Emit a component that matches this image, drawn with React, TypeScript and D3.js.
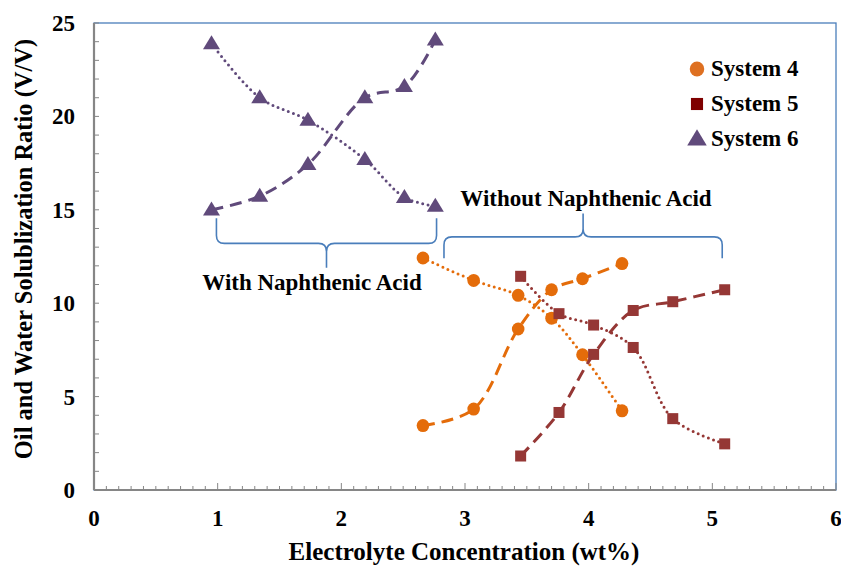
import React from 'react';
import * as d3 from 'd3';

// electrolyte concentration (wt%) vs solubilization ratio (V/V)
const sys4X = [2.66, 3.07, 3.43, 3.7, 3.95, 4.27];
const sys4Oil = [12.42, 11.22, 10.42, 9.2, 7.24, 4.24];
const sys4Water = [3.45, 4.33, 8.62, 10.72, 11.31, 12.12];

const sys5X = [3.45, 3.76, 4.04, 4.36, 4.68, 5.1];
const sys5Oil = [11.44, 9.44, 8.83, 7.63, 3.82, 2.47];
const sys5Water = [1.82, 4.15, 7.26, 9.61, 10.08, 10.72];

const sys6X = [0.95, 1.34, 1.73, 2.19, 2.51, 2.76];
const sys6Oil = [23.9, 21.0, 19.8, 17.7, 15.67, 15.19];
const sys6Water = [15.0, 15.73, 17.43, 21.0, 21.6, 24.1];

const yTicks = [0, 5, 10, 15, 20, 25];
const xTicks = [0, 1, 2, 3, 4, 5, 6];
const legendNames = ['System 4', 'System 5', 'System 6'];

// brace annotations: [x start, x end, end y, bar y, tip y]
const braceWith = [0.99, 2.77, 14.55, 13.2, 11.9];
const braceWithout = [2.83, 5.08, 12.4, 13.55, 14.8];

const W = 841;
const H = 567;
const margin = { top: 23, right: 5, bottom: 77, left: 94 };
const font = "'Liberation Serif', Tinos, 'Times New Roman', Times, serif";
const txt = { fontFamily: font, fontWeight: 'bold' as const, fontSize: '23px' };
const title = { ...txt, fontSize: '25px' };

const c4 = '#E46C0A';
const c5 = '#953735';
const c6 = '#604A7B';

export default function App() {
  const x = d3.scaleLinear().domain([0, 6]).range([margin.left, W - margin.right]);
  const y = d3.scaleLinear().domain([0, 25]).range([H - margin.bottom, margin.top]);

  const line = d3
    .line<[number, number]>()
    .x((d) => x(d[0]))
    .y((d) => y(d[1]))
    .curve(d3.curveCatmullRom.alpha(0.5));

  const pts = (xs: number[], ys: number[]) => xs.map((v, i) => [v, ys[i]] as [number, number]);

  const series = [
    { xs: sys4X, oil: sys4Oil, water: sys4Water, color: c4, shape: 'circle' },
    { xs: sys5X, oil: sys5Oil, water: sys5Water, color: c5, shape: 'square' },
    { xs: sys6X, oil: sys6Oil, water: sys6Water, color: c6, shape: 'triangle' },
  ];

  const marker = (shape: string, cx: number, cy: number, color: string, key: any, s = 1) => {
    if (shape === 'circle') return <ellipse key={key} cx={cx} cy={cy} rx={6.3 * s} ry={6.5 * s} fill={color} />;
    if (shape === 'square')
      return <rect key={key} x={cx - 5.5 * s} y={cy - 5.5 * s} width={11 * s} height={11 * s} fill={color} />;
    const h = 14 * s;
    const w = 8.5 * s;
    return (
      <path key={key} d={`M${cx},${cy - h * 0.6}L${cx + w},${cy + h * 0.4}L${cx - w},${cy + h * 0.4}Z`} fill={color} />
    );
  };

  const brace = (b: number[], key: string) => {
    const [x1, x2, yEnd, yBar, yTip] = b;
    const xa = x(x1);
    const xb = x(x2);
    const xm = (xa + xb) / 2;
    const ye = y(yEnd);
    const yb = y(yBar);
    const yt = y(yTip);
    const dir = yb > ye ? 1 : -1;
    const r = 8;
    const d =
      `M${xa},${ye}L${xa},${yb - dir * r}Q${xa},${yb} ${xa + r},${yb}` +
      `L${xm - r},${yb}Q${xm},${yb} ${xm},${yb + dir * r}L${xm},${yt}` +
      `M${xm},${yb + dir * r}Q${xm},${yb} ${xm + r},${yb}` +
      `L${xb - r},${yb}Q${xb},${yb} ${xb},${yb - dir * r}L${xb},${ye}`;
    return <path key={key} d={d} fill="none" stroke="#4A7EBB" strokeWidth={1.6} />;
  };

  const xMinor = d3.range(0, 60.5, 1).map((v) => v / 10);
  const yMinor = d3.range(0, 26, 1);
  const bottom = y(0);
  const left = x(0);

  return (
    <svg width={W} height={H} style={{ position: 'absolute', left: 0, top: 0, background: '#fff' }}>
      <rect
        x={x(0)}
        y={y(25)}
        width={x(6) - x(0)}
        height={y(0) - y(25)}
        fill="none"
        stroke="#4A7EBB"
        strokeWidth={1.3}
      />

      {/* axes */}
      <line x1={left} x2={x(6)} y1={bottom} y2={bottom} stroke="#868686" strokeWidth={2.2} />
      <line x1={left} x2={left} y1={bottom} y2={y(25)} stroke="#868686" strokeWidth={2.2} />
      {xMinor.map((v, i) => (
        <line
          key={'xm' + i}
          x1={x(v)}
          x2={x(v)}
          y1={bottom}
          y2={bottom - (i % 10 === 0 ? 7 : 4)}
          stroke="#868686"
          strokeWidth={1}
        />
      ))}
      {yMinor.map((v) => (
        <line key={'ym' + v} x1={left} x2={left + 5} y1={y(v)} y2={y(v)} stroke="#868686" strokeWidth={1} />
      ))}
      {yTicks.map((v) => (
        <text key={'yt' + v} x={75} y={y(v)} dy="0.35em" textAnchor="end" style={txt}>
          {v}
        </text>
      ))}
      {xTicks.map((v) => (
        <text key={'xt' + v} x={x(v)} y={526} textAnchor="middle" style={txt}>
          {v}
        </text>
      ))}
      <text x={464} y={560} textAnchor="middle" style={title}>
        Electrolyte Concentration (wt%)
      </text>
      <text
        transform={`translate(32,249) rotate(-90)`}
        textAnchor="middle"
        style={{ ...title, fontSize: '24.5px' }}
      >
        Oil and Water Solublization Ratio (V/V)
      </text>

      {/* series */}
      {series.map((s, i) => (
        <g key={'s' + i}>
          <path
            d={line(pts(s.xs, s.oil)) || ''}
            fill="none"
            stroke={s.color}
            strokeWidth={3}
            strokeDasharray="0 5.5"
            strokeLinecap="round"
          />
          <path
            d={line(pts(s.xs, s.water)) || ''}
            fill="none"
            stroke={s.color}
            strokeWidth={3}
            strokeDasharray="12 7"
          />
          {s.xs.map((v, j) => marker(s.shape, x(v), y(s.oil[j]), s.color, 'o' + j))}
          {s.xs.map((v, j) => marker(s.shape, x(v), y(s.water[j]), s.color, 'w' + j))}
        </g>
      ))}

      {/* braces */}
      {brace(braceWith, 'b1')}
      {brace(braceWithout, 'b2')}
      <text x={312} y={290} textAnchor="middle" style={txt}>
        With Naphthenic Acid
      </text>
      <text x={586} y={206} textAnchor="middle" style={txt}>
        Without Naphthenic Acid
      </text>

      {/* legend */}
      {legendNames.map((n, i) => (
        <g key={'l' + i}>
          {marker(
            series[i].shape,
            697,
            69 + i * 35,
            i === 0 ? '#DE7021' : i === 1 ? '#7F0000' : '#604A7B',
            'lm' + i,
            i === 1 ? 1.1 : 1.15
          )}
          <text x={711} y={76 + i * 35} style={txt}>
            {n}
          </text>
        </g>
      ))}
    </svg>
  );
}
